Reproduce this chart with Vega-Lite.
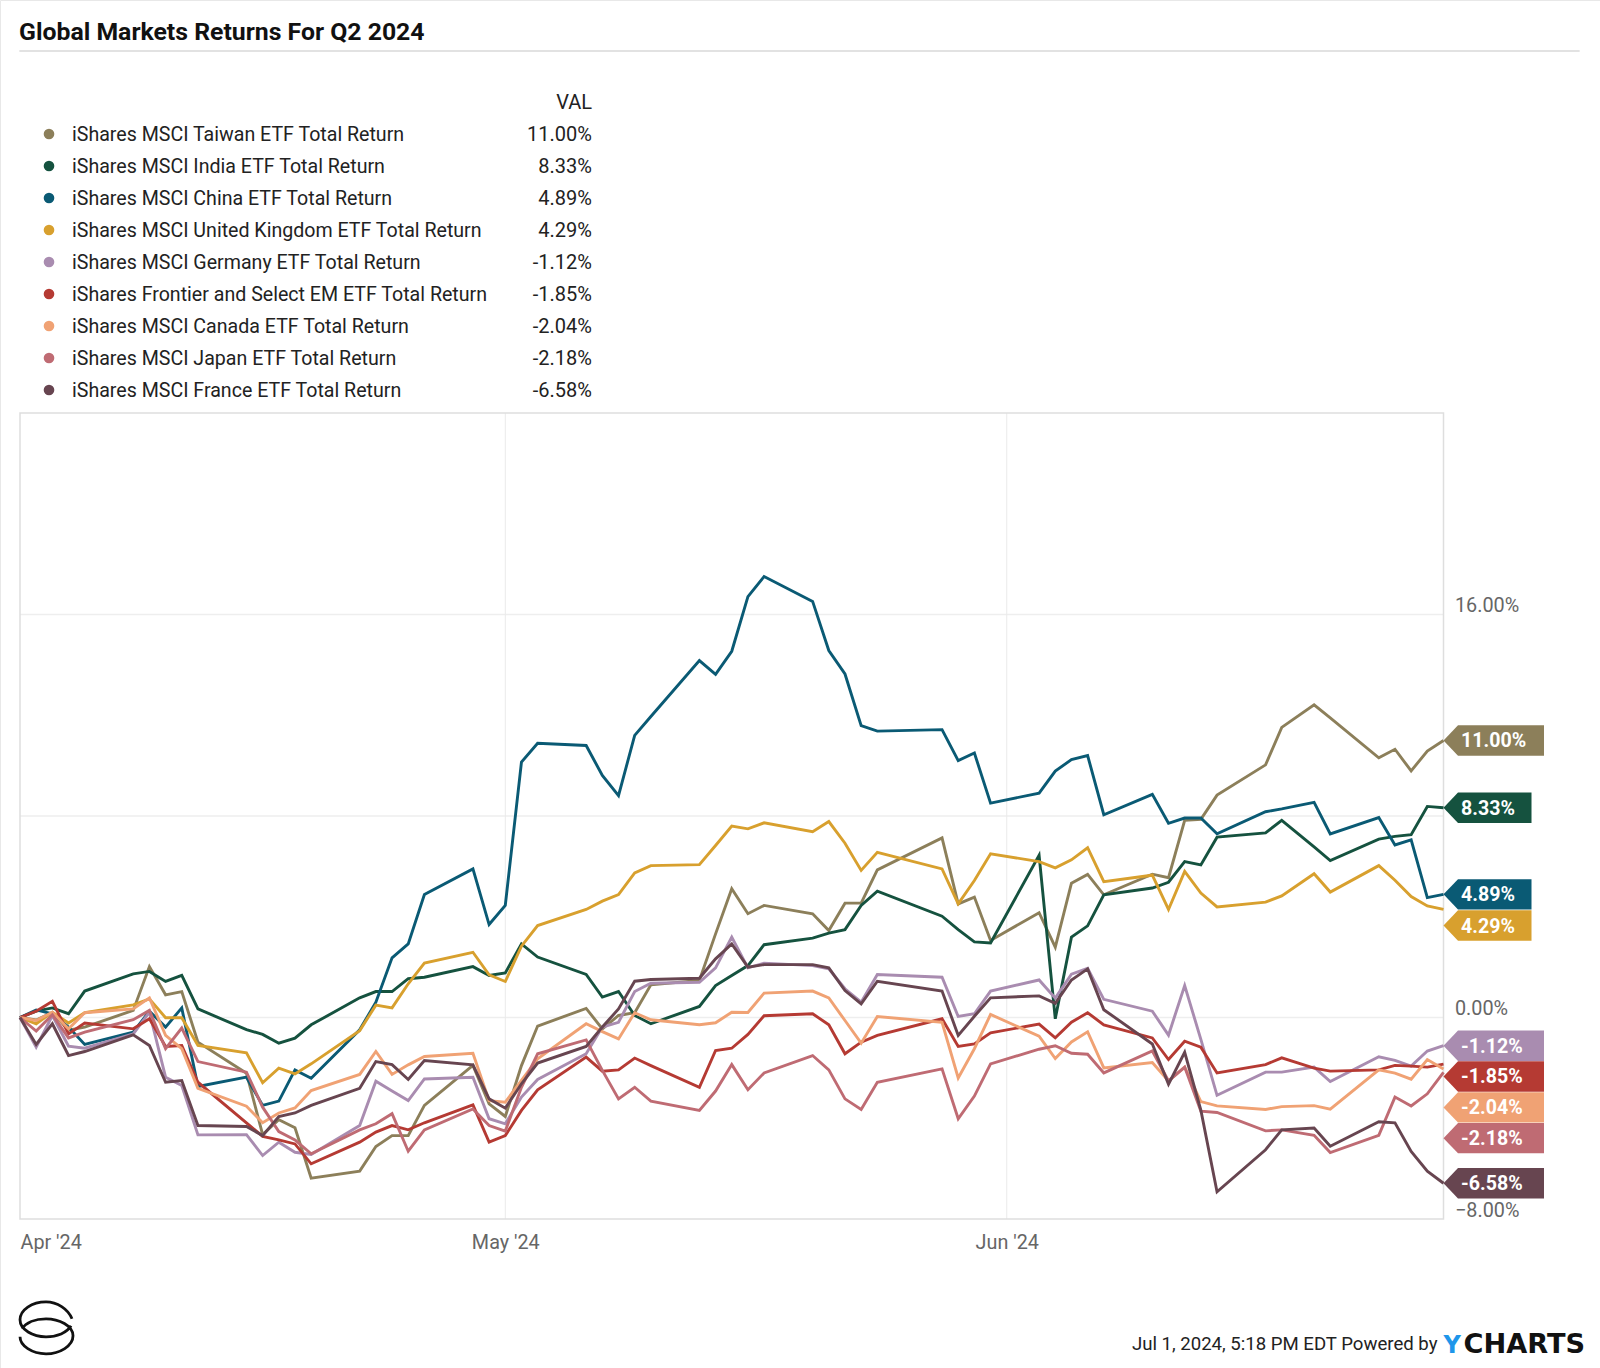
{"$schema":"https://vega.github.io/schema/vega-lite/v6.json","width":1600,"height":1368,"padding":0,"autosize":{"type":"none"},"background":"white",
"config":{"view":{"stroke":"#e8e8e8"},"text":{"font":"Roboto"}},
"title":{"text":"Global Markets Returns For Q2 2024","anchor":"start","frame":"group","offset":-65,"dx":19,"baseline":"alphabetic","font":"Roboto","fontSize":24.8,"fontWeight":"bold","color":"#111111"},
"datasets":{
"latest":[
{"etf":"Header","name":"VAL","val":"VAL","value":null},
{"etf":"Taiwan","name":"iShares MSCI Taiwan ETF Total Return","val":"11.00%","value":11},
{"etf":"India","name":"iShares MSCI India ETF Total Return","val":"8.33%","value":8.33},
{"etf":"China","name":"iShares MSCI China ETF Total Return","val":"4.89%","value":4.89},
{"etf":"UK","name":"iShares MSCI United Kingdom ETF Total Return","val":"4.29%","value":4.29},
{"etf":"Germany","name":"iShares MSCI Germany ETF Total Return","val":"-1.12%","value":-1.12},
{"etf":"Frontier","name":"iShares Frontier and Select EM ETF Total Return","val":"-1.85%","value":-1.85},
{"etf":"Canada","name":"iShares MSCI Canada ETF Total Return","val":"-2.04%","value":-2.04},
{"etf":"Japan","name":"iShares MSCI Japan ETF Total Return","val":"-2.18%","value":-2.18},
{"etf":"France","name":"iShares MSCI France ETF Total Return","val":"-6.58%","value":-6.58}
],
"returns":[
{"date":"2024/04/01","etf":"Taiwan","ret":0},{"date":"2024/04/02","etf":"Taiwan","ret":-0.1},{"date":"2024/04/03","etf":"Taiwan","ret":0.2},{"date":"2024/04/04","etf":"Taiwan","ret":-0.5},{"date":"2024/04/05","etf":"Taiwan","ret":-0.38},{"date":"2024/04/08","etf":"Taiwan","ret":0.28},{"date":"2024/04/09","etf":"Taiwan","ret":2.02},{"date":"2024/04/10","etf":"Taiwan","ret":0.9},{"date":"2024/04/11","etf":"Taiwan","ret":1.03},{"date":"2024/04/12","etf":"Taiwan","ret":-0.98},{"date":"2024/04/15","etf":"Taiwan","ret":-2.21},{"date":"2024/04/16","etf":"Taiwan","ret":-4.65},{"date":"2024/04/17","etf":"Taiwan","ret":-4.06},{"date":"2024/04/18","etf":"Taiwan","ret":-4.38},{"date":"2024/04/19","etf":"Taiwan","ret":-6.38},{"date":"2024/04/22","etf":"Taiwan","ret":-6.1},{"date":"2024/04/23","etf":"Taiwan","ret":-5.12},{"date":"2024/04/24","etf":"Taiwan","ret":-4.69},{"date":"2024/04/25","etf":"Taiwan","ret":-4.69},{"date":"2024/04/26","etf":"Taiwan","ret":-3.49},{"date":"2024/04/29","etf":"Taiwan","ret":-1.9},{"date":"2024/04/30","etf":"Taiwan","ret":-3.43},
{"date":"2024/05/01","etf":"Taiwan","ret":-3.93},{"date":"2024/05/02","etf":"Taiwan","ret":-1.91},{"date":"2024/05/03","etf":"Taiwan","ret":-0.34},{"date":"2024/05/06","etf":"Taiwan","ret":0.36},{"date":"2024/05/07","etf":"Taiwan","ret":-0.45},{"date":"2024/05/08","etf":"Taiwan","ret":0.08},{"date":"2024/05/09","etf":"Taiwan","ret":0.19},{"date":"2024/05/10","etf":"Taiwan","ret":1.3},{"date":"2024/05/13","etf":"Taiwan","ret":1.47},{"date":"2024/05/14","etf":"Taiwan","ret":3.32},{"date":"2024/05/15","etf":"Taiwan","ret":5.11},{"date":"2024/05/16","etf":"Taiwan","ret":4.12},{"date":"2024/05/17","etf":"Taiwan","ret":4.45},{"date":"2024/05/20","etf":"Taiwan","ret":4.12},{"date":"2024/05/21","etf":"Taiwan","ret":3.45},{"date":"2024/05/22","etf":"Taiwan","ret":4.54},{"date":"2024/05/23","etf":"Taiwan","ret":4.54},{"date":"2024/05/24","etf":"Taiwan","ret":5.86},{"date":"2024/05/28","etf":"Taiwan","ret":7.13},{"date":"2024/05/29","etf":"Taiwan","ret":4.51},{"date":"2024/05/30","etf":"Taiwan","ret":4.78},{"date":"2024/05/31","etf":"Taiwan","ret":3.06},
{"date":"2024/06/03","etf":"Taiwan","ret":4.16},{"date":"2024/06/04","etf":"Taiwan","ret":2.79},{"date":"2024/06/05","etf":"Taiwan","ret":5.33},{"date":"2024/06/06","etf":"Taiwan","ret":5.68},{"date":"2024/06/07","etf":"Taiwan","ret":4.87},{"date":"2024/06/10","etf":"Taiwan","ret":5.69},{"date":"2024/06/11","etf":"Taiwan","ret":5.55},{"date":"2024/06/12","etf":"Taiwan","ret":7.83},{"date":"2024/06/13","etf":"Taiwan","ret":7.87},{"date":"2024/06/14","etf":"Taiwan","ret":8.83},{"date":"2024/06/17","etf":"Taiwan","ret":10.03},{"date":"2024/06/18","etf":"Taiwan","ret":11.52},{"date":"2024/06/20","etf":"Taiwan","ret":12.41},{"date":"2024/06/21","etf":"Taiwan","ret":11.9},{"date":"2024/06/24","etf":"Taiwan","ret":10.31},{"date":"2024/06/25","etf":"Taiwan","ret":10.65},{"date":"2024/06/26","etf":"Taiwan","ret":9.79},{"date":"2024/06/27","etf":"Taiwan","ret":10.58},{"date":"2024/06/28","etf":"Taiwan","ret":11},
{"date":"2024/04/01","etf":"India","ret":0},{"date":"2024/04/02","etf":"India","ret":0.25},{"date":"2024/04/03","etf":"India","ret":0.38},{"date":"2024/04/04","etf":"India","ret":0.15},{"date":"2024/04/05","etf":"India","ret":1.05},{"date":"2024/04/08","etf":"India","ret":1.73},{"date":"2024/04/09","etf":"India","ret":1.83},{"date":"2024/04/10","etf":"India","ret":1.43},{"date":"2024/04/11","etf":"India","ret":1.67},{"date":"2024/04/12","etf":"India","ret":0.34},{"date":"2024/04/15","etf":"India","ret":-0.48},{"date":"2024/04/16","etf":"India","ret":-0.67},{"date":"2024/04/17","etf":"India","ret":-1.02},{"date":"2024/04/18","etf":"India","ret":-0.82},{"date":"2024/04/19","etf":"India","ret":-0.29},{"date":"2024/04/22","etf":"India","ret":0.78},{"date":"2024/04/23","etf":"India","ret":1.03},{"date":"2024/04/24","etf":"India","ret":1.03},{"date":"2024/04/25","etf":"India","ret":1.54},{"date":"2024/04/26","etf":"India","ret":1.6},{"date":"2024/04/29","etf":"India","ret":2.02},{"date":"2024/04/30","etf":"India","ret":1.67},
{"date":"2024/05/01","etf":"India","ret":1.77},{"date":"2024/05/02","etf":"India","ret":2.92},{"date":"2024/05/03","etf":"India","ret":2.4},{"date":"2024/05/06","etf":"India","ret":1.71},{"date":"2024/05/07","etf":"India","ret":0.81},{"date":"2024/05/08","etf":"India","ret":1.03},{"date":"2024/05/09","etf":"India","ret":0.08},{"date":"2024/05/10","etf":"India","ret":-0.25},{"date":"2024/05/13","etf":"India","ret":0.44},{"date":"2024/05/14","etf":"India","ret":1.27},{"date":"2024/05/15","etf":"India","ret":1.67},{"date":"2024/05/16","etf":"India","ret":2.06},{"date":"2024/05/17","etf":"India","ret":2.89},{"date":"2024/05/20","etf":"India","ret":3.15},{"date":"2024/05/21","etf":"India","ret":3.35},{"date":"2024/05/22","etf":"India","ret":3.49},{"date":"2024/05/23","etf":"India","ret":4.45},{"date":"2024/05/24","etf":"India","ret":5.02},{"date":"2024/05/28","etf":"India","ret":4.02},{"date":"2024/05/29","etf":"India","ret":3.49},{"date":"2024/05/30","etf":"India","ret":3},{"date":"2024/05/31","etf":"India","ret":2.96},
{"date":"2024/06/03","etf":"India","ret":6.44},{"date":"2024/06/04","etf":"India","ret":-0.05},{"date":"2024/06/05","etf":"India","ret":3.19},{"date":"2024/06/06","etf":"India","ret":3.64},{"date":"2024/06/07","etf":"India","ret":4.87},{"date":"2024/06/10","etf":"India","ret":5.14},{"date":"2024/06/11","etf":"India","ret":5.37},{"date":"2024/06/12","etf":"India","ret":6.19},{"date":"2024/06/13","etf":"India","ret":6.06},{"date":"2024/06/14","etf":"India","ret":7.16},{"date":"2024/06/17","etf":"India","ret":7.33},{"date":"2024/06/18","etf":"India","ret":7.83},{"date":"2024/06/20","etf":"India","ret":6.77},{"date":"2024/06/21","etf":"India","ret":6.23},{"date":"2024/06/24","etf":"India","ret":7.08},{"date":"2024/06/25","etf":"India","ret":7.19},{"date":"2024/06/26","etf":"India","ret":7.26},{"date":"2024/06/27","etf":"India","ret":8.38},{"date":"2024/06/28","etf":"India","ret":8.33},
{"date":"2024/04/01","etf":"China","ret":0},{"date":"2024/04/02","etf":"China","ret":0.3},{"date":"2024/04/03","etf":"China","ret":0.15},{"date":"2024/04/04","etf":"China","ret":-0.38},{"date":"2024/04/05","etf":"China","ret":-1.07},{"date":"2024/04/08","etf":"China","ret":-0.58},{"date":"2024/04/09","etf":"China","ret":0.25},{"date":"2024/04/10","etf":"China","ret":-0.38},{"date":"2024/04/11","etf":"China","ret":0.38},{"date":"2024/04/12","etf":"China","ret":-2.74},{"date":"2024/04/15","etf":"China","ret":-2.37},{"date":"2024/04/16","etf":"China","ret":-3.49},{"date":"2024/04/17","etf":"China","ret":-3.32},{"date":"2024/04/18","etf":"China","ret":-2.08},{"date":"2024/04/19","etf":"China","ret":-2.41},{"date":"2024/04/22","etf":"China","ret":-0.49},{"date":"2024/04/23","etf":"China","ret":0.61},{"date":"2024/04/24","etf":"China","ret":2.37},{"date":"2024/04/25","etf":"China","ret":2.92},{"date":"2024/04/26","etf":"China","ret":4.88},{"date":"2024/04/29","etf":"China","ret":5.9},{"date":"2024/04/30","etf":"China","ret":3.69},
{"date":"2024/05/01","etf":"China","ret":4.45},{"date":"2024/05/02","etf":"China","ret":10.14},{"date":"2024/05/03","etf":"China","ret":10.89},{"date":"2024/05/06","etf":"China","ret":10.8},{"date":"2024/05/07","etf":"China","ret":9.61},{"date":"2024/05/08","etf":"China","ret":8.81},{"date":"2024/05/09","etf":"China","ret":11.2},{"date":"2024/05/10","etf":"China","ret":11.95},{"date":"2024/05/13","etf":"China","ret":14.17},{"date":"2024/05/14","etf":"China","ret":13.62},{"date":"2024/05/15","etf":"China","ret":14.54},{"date":"2024/05/16","etf":"China","ret":16.71},{"date":"2024/05/17","etf":"China","ret":17.51},{"date":"2024/05/20","etf":"China","ret":16.52},{"date":"2024/05/21","etf":"China","ret":14.57},{"date":"2024/05/22","etf":"China","ret":13.64},{"date":"2024/05/23","etf":"China","ret":11.59},{"date":"2024/05/24","etf":"China","ret":11.37},{"date":"2024/05/28","etf":"China","ret":11.43},{"date":"2024/05/29","etf":"China","ret":10.2},{"date":"2024/05/30","etf":"China","ret":10.5},{"date":"2024/05/31","etf":"China","ret":8.51},
{"date":"2024/06/03","etf":"China","ret":8.91},{"date":"2024/06/04","etf":"China","ret":9.78},{"date":"2024/06/05","etf":"China","ret":10.24},{"date":"2024/06/06","etf":"China","ret":10.4},{"date":"2024/06/07","etf":"China","ret":8.05},{"date":"2024/06/10","etf":"China","ret":8.86},{"date":"2024/06/11","etf":"China","ret":7.71},{"date":"2024/06/12","etf":"China","ret":7.92},{"date":"2024/06/13","etf":"China","ret":7.92},{"date":"2024/06/14","etf":"China","ret":7.29},{"date":"2024/06/17","etf":"China","ret":8.17},{"date":"2024/06/18","etf":"China","ret":8.28},{"date":"2024/06/20","etf":"China","ret":8.54},{"date":"2024/06/21","etf":"China","ret":7.29},{"date":"2024/06/24","etf":"China","ret":7.94},{"date":"2024/06/25","etf":"China","ret":6.85},{"date":"2024/06/26","etf":"China","ret":7.05},{"date":"2024/06/27","etf":"China","ret":4.76},{"date":"2024/06/28","etf":"China","ret":4.89},
{"date":"2024/04/01","etf":"UK","ret":0},{"date":"2024/04/02","etf":"UK","ret":-0.25},{"date":"2024/04/03","etf":"UK","ret":0.21},{"date":"2024/04/04","etf":"UK","ret":-0.22},{"date":"2024/04/05","etf":"UK","ret":0.19},{"date":"2024/04/08","etf":"UK","ret":0.5},{"date":"2024/04/09","etf":"UK","ret":0.74},{"date":"2024/04/10","etf":"UK","ret":-0.01},{"date":"2024/04/11","etf":"UK","ret":-0.01},{"date":"2024/04/12","etf":"UK","ret":-1.11},{"date":"2024/04/15","etf":"UK","ret":-1.4},{"date":"2024/04/16","etf":"UK","ret":-2.59},{"date":"2024/04/17","etf":"UK","ret":-2.01},{"date":"2024/04/18","etf":"UK","ret":-2.24},{"date":"2024/04/19","etf":"UK","ret":-1.84},{"date":"2024/04/22","etf":"UK","ret":-0.52},{"date":"2024/04/23","etf":"UK","ret":0.49},{"date":"2024/04/24","etf":"UK","ret":0.38},{"date":"2024/04/25","etf":"UK","ret":1.34},{"date":"2024/04/26","etf":"UK","ret":2.16},{"date":"2024/04/29","etf":"UK","ret":2.59},{"date":"2024/04/30","etf":"UK","ret":1.69},
{"date":"2024/05/01","etf":"UK","ret":1.43},{"date":"2024/05/02","etf":"UK","ret":2.83},{"date":"2024/05/03","etf":"UK","ret":3.65},{"date":"2024/05/06","etf":"UK","ret":4.29},{"date":"2024/05/07","etf":"UK","ret":4.62},{"date":"2024/05/08","etf":"UK","ret":4.88},{"date":"2024/05/09","etf":"UK","ret":5.74},{"date":"2024/05/10","etf":"UK","ret":6.03},{"date":"2024/05/13","etf":"UK","ret":6.07},{"date":"2024/05/14","etf":"UK","ret":6.83},{"date":"2024/05/15","etf":"UK","ret":7.6},{"date":"2024/05/16","etf":"UK","ret":7.49},{"date":"2024/05/17","etf":"UK","ret":7.73},{"date":"2024/05/20","etf":"UK","ret":7.38},{"date":"2024/05/21","etf":"UK","ret":7.78},{"date":"2024/05/22","etf":"UK","ret":6.92},{"date":"2024/05/23","etf":"UK","ret":5.84},{"date":"2024/05/24","etf":"UK","ret":6.56},{"date":"2024/05/28","etf":"UK","ret":5.9},{"date":"2024/05/29","etf":"UK","ret":4.51},{"date":"2024/05/30","etf":"UK","ret":5.44},{"date":"2024/05/31","etf":"UK","ret":6.5},
{"date":"2024/06/03","etf":"UK","ret":6.19},{"date":"2024/06/04","etf":"UK","ret":5.94},{"date":"2024/06/05","etf":"UK","ret":6.26},{"date":"2024/06/06","etf":"UK","ret":6.74},{"date":"2024/06/07","etf":"UK","ret":5.39},{"date":"2024/06/10","etf":"UK","ret":5.65},{"date":"2024/06/11","etf":"UK","ret":4.29},{"date":"2024/06/12","etf":"UK","ret":5.8},{"date":"2024/06/13","etf":"UK","ret":4.94},{"date":"2024/06/14","etf":"UK","ret":4.39},{"date":"2024/06/17","etf":"UK","ret":4.58},{"date":"2024/06/18","etf":"UK","ret":4.83},{"date":"2024/06/20","etf":"UK","ret":5.71},{"date":"2024/06/21","etf":"UK","ret":4.98},{"date":"2024/06/24","etf":"UK","ret":6.03},{"date":"2024/06/25","etf":"UK","ret":5.45},{"date":"2024/06/26","etf":"UK","ret":4.8},{"date":"2024/06/27","etf":"UK","ret":4.43},{"date":"2024/06/28","etf":"UK","ret":4.29},
{"date":"2024/04/01","etf":"Germany","ret":0},{"date":"2024/04/02","etf":"Germany","ret":-1.18},{"date":"2024/04/03","etf":"Germany","ret":0.08},{"date":"2024/04/04","etf":"Germany","ret":-1.14},{"date":"2024/04/05","etf":"Germany","ret":-1.22},{"date":"2024/04/08","etf":"Germany","ret":-0.65},{"date":"2024/04/09","etf":"Germany","ret":0.21},{"date":"2024/04/10","etf":"Germany","ret":-2.37},{"date":"2024/04/11","etf":"Germany","ret":-2.7},{"date":"2024/04/12","etf":"Germany","ret":-4.66},{"date":"2024/04/15","etf":"Germany","ret":-4.65},{"date":"2024/04/16","etf":"Germany","ret":-5.48},{"date":"2024/04/17","etf":"Germany","ret":-4.95},{"date":"2024/04/18","etf":"Germany","ret":-5.35},{"date":"2024/04/19","etf":"Germany","ret":-5.44},{"date":"2024/04/22","etf":"Germany","ret":-4.29},{"date":"2024/04/23","etf":"Germany","ret":-2.53},{"date":"2024/04/24","etf":"Germany","ret":-2.92},{"date":"2024/04/25","etf":"Germany","ret":-3.3},{"date":"2024/04/26","etf":"Germany","ret":-2.44},{"date":"2024/04/29","etf":"Germany","ret":-2.37},{"date":"2024/04/30","etf":"Germany","ret":-4.02},
{"date":"2024/05/01","etf":"Germany","ret":-4.22},{"date":"2024/05/02","etf":"Germany","ret":-3.16},{"date":"2024/05/03","etf":"Germany","ret":-2.46},{"date":"2024/05/06","etf":"Germany","ret":-1.44},{"date":"2024/05/07","etf":"Germany","ret":-0.38},{"date":"2024/05/08","etf":"Germany","ret":-0.19},{"date":"2024/05/09","etf":"Germany","ret":1.03},{"date":"2024/05/10","etf":"Germany","ret":1.36},{"date":"2024/05/13","etf":"Germany","ret":1.4},{"date":"2024/05/14","etf":"Germany","ret":1.97},{"date":"2024/05/15","etf":"Germany","ret":3.19},{"date":"2024/05/16","etf":"Germany","ret":1.97},{"date":"2024/05/17","etf":"Germany","ret":2.16},{"date":"2024/05/20","etf":"Germany","ret":2.06},{"date":"2024/05/21","etf":"Germany","ret":1.93},{"date":"2024/05/22","etf":"Germany","ret":1.14},{"date":"2024/05/23","etf":"Germany","ret":0.61},{"date":"2024/05/24","etf":"Germany","ret":1.71},{"date":"2024/05/28","etf":"Germany","ret":1.6},{"date":"2024/05/29","etf":"Germany","ret":0.04},{"date":"2024/05/30","etf":"Germany","ret":0.15},{"date":"2024/05/31","etf":"Germany","ret":1.05},
{"date":"2024/06/03","etf":"Germany","ret":1.49},{"date":"2024/06/04","etf":"Germany","ret":0.77},{"date":"2024/06/05","etf":"Germany","ret":1.72},{"date":"2024/06/06","etf":"Germany","ret":1.95},{"date":"2024/06/07","etf":"Germany","ret":0.72},{"date":"2024/06/10","etf":"Germany","ret":0.25},{"date":"2024/06/11","etf":"Germany","ret":-0.7},{"date":"2024/06/12","etf":"Germany","ret":1.27},{"date":"2024/06/13","etf":"Germany","ret":-0.87},{"date":"2024/06/14","etf":"Germany","ret":-3.09},{"date":"2024/06/17","etf":"Germany","ret":-2.17},{"date":"2024/06/18","etf":"Germany","ret":-2.17},{"date":"2024/06/20","etf":"Germany","ret":-1.97},{"date":"2024/06/21","etf":"Germany","ret":-2.54},{"date":"2024/06/24","etf":"Germany","ret":-1.56},{"date":"2024/06/25","etf":"Germany","ret":-1.7},{"date":"2024/06/26","etf":"Germany","ret":-1.93},{"date":"2024/06/27","etf":"Germany","ret":-1.33},{"date":"2024/06/28","etf":"Germany","ret":-1.12},
{"date":"2024/04/01","etf":"Frontier","ret":0},{"date":"2024/04/02","etf":"Frontier","ret":0.25},{"date":"2024/04/03","etf":"Frontier","ret":0.64},{"date":"2024/04/04","etf":"Frontier","ret":-0.65},{"date":"2024/04/05","etf":"Frontier","ret":-0.22},{"date":"2024/04/08","etf":"Frontier","ret":-0.45},{"date":"2024/04/09","etf":"Frontier","ret":-0.05},{"date":"2024/04/10","etf":"Frontier","ret":-1.15},{"date":"2024/04/11","etf":"Frontier","ret":-1.11},{"date":"2024/04/12","etf":"Frontier","ret":-2.57},{"date":"2024/04/15","etf":"Frontier","ret":-4.18},{"date":"2024/04/16","etf":"Frontier","ret":-4.72},{"date":"2024/04/17","etf":"Frontier","ret":-4.86},{"date":"2024/04/18","etf":"Frontier","ret":-5.02},{"date":"2024/04/19","etf":"Frontier","ret":-5.81},{"date":"2024/04/22","etf":"Frontier","ret":-4.95},{"date":"2024/04/23","etf":"Frontier","ret":-4.55},{"date":"2024/04/24","etf":"Frontier","ret":-4.29},{"date":"2024/04/25","etf":"Frontier","ret":-4.46},{"date":"2024/04/26","etf":"Frontier","ret":-4.18},{"date":"2024/04/29","etf":"Frontier","ret":-3.47},{"date":"2024/04/30","etf":"Frontier","ret":-4.95},
{"date":"2024/05/01","etf":"Frontier","ret":-4.69},{"date":"2024/05/02","etf":"Frontier","ret":-3.69},{"date":"2024/05/03","etf":"Frontier","ret":-2.87},{"date":"2024/05/06","etf":"Frontier","ret":-1.57},{"date":"2024/05/07","etf":"Frontier","ret":-2.13},{"date":"2024/05/08","etf":"Frontier","ret":-2.08},{"date":"2024/05/09","etf":"Frontier","ret":-1.61},{"date":"2024/05/10","etf":"Frontier","ret":-1.91},{"date":"2024/05/13","etf":"Frontier","ret":-2.77},{"date":"2024/05/14","etf":"Frontier","ret":-1.31},{"date":"2024/05/15","etf":"Frontier","ret":-1.22},{"date":"2024/05/16","etf":"Frontier","ret":-0.67},{"date":"2024/05/17","etf":"Frontier","ret":0.07},{"date":"2024/05/20","etf":"Frontier","ret":0.15},{"date":"2024/05/21","etf":"Frontier","ret":-0.29},{"date":"2024/05/22","etf":"Frontier","ret":-1.44},{"date":"2024/05/23","etf":"Frontier","ret":-0.98},{"date":"2024/05/24","etf":"Frontier","ret":-0.71},{"date":"2024/05/28","etf":"Frontier","ret":-0.05},{"date":"2024/05/29","etf":"Frontier","ret":-1.15},{"date":"2024/05/30","etf":"Frontier","ret":-1.05},{"date":"2024/05/31","etf":"Frontier","ret":-0.61},
{"date":"2024/06/03","etf":"Frontier","ret":-0.26},{"date":"2024/06/04","etf":"Frontier","ret":-0.81},{"date":"2024/06/05","etf":"Frontier","ret":-0.19},{"date":"2024/06/06","etf":"Frontier","ret":0.19},{"date":"2024/06/07","etf":"Frontier","ret":-0.29},{"date":"2024/06/10","etf":"Frontier","ret":-0.81},{"date":"2024/06/11","etf":"Frontier","ret":-1.67},{"date":"2024/06/12","etf":"Frontier","ret":-0.94},{"date":"2024/06/13","etf":"Frontier","ret":-1.18},{"date":"2024/06/14","etf":"Frontier","ret":-2.2},{"date":"2024/06/17","etf":"Frontier","ret":-1.87},{"date":"2024/06/18","etf":"Frontier","ret":-1.6},{"date":"2024/06/20","etf":"Frontier","ret":-2.01},{"date":"2024/06/21","etf":"Frontier","ret":-2.13},{"date":"2024/06/24","etf":"Frontier","ret":-2.08},{"date":"2024/06/25","etf":"Frontier","ret":-1.9},{"date":"2024/06/26","etf":"Frontier","ret":-1.93},{"date":"2024/06/27","etf":"Frontier","ret":-1.97},{"date":"2024/06/28","etf":"Frontier","ret":-1.85},
{"date":"2024/04/01","etf":"Canada","ret":0},{"date":"2024/04/02","etf":"Canada","ret":-0.12},{"date":"2024/04/03","etf":"Canada","ret":0.21},{"date":"2024/04/04","etf":"Canada","ret":-0.45},{"date":"2024/04/05","etf":"Canada","ret":0.19},{"date":"2024/04/08","etf":"Canada","ret":0.34},{"date":"2024/04/09","etf":"Canada","ret":0.78},{"date":"2024/04/10","etf":"Canada","ret":-0.71},{"date":"2024/04/11","etf":"Canada","ret":-1.24},{"date":"2024/04/12","etf":"Canada","ret":-2.81},{"date":"2024/04/15","etf":"Canada","ret":-3.52},{"date":"2024/04/16","etf":"Canada","ret":-4.18},{"date":"2024/04/17","etf":"Canada","ret":-3.79},{"date":"2024/04/18","etf":"Canada","ret":-3.59},{"date":"2024/04/19","etf":"Canada","ret":-2.9},{"date":"2024/04/22","etf":"Canada","ret":-2.26},{"date":"2024/04/23","etf":"Canada","ret":-1.35},{"date":"2024/04/24","etf":"Canada","ret":-2.26},{"date":"2024/04/25","etf":"Canada","ret":-1.88},{"date":"2024/04/26","etf":"Canada","ret":-1.55},{"date":"2024/04/29","etf":"Canada","ret":-1.42},{"date":"2024/04/30","etf":"Canada","ret":-3.3},
{"date":"2024/05/01","etf":"Canada","ret":-3.36},{"date":"2024/05/02","etf":"Canada","ret":-2.5},{"date":"2024/05/03","etf":"Canada","ret":-1.64},{"date":"2024/05/06","etf":"Canada","ret":-0.25},{"date":"2024/05/07","etf":"Canada","ret":-0.56},{"date":"2024/05/08","etf":"Canada","ret":-0.85},{"date":"2024/05/09","etf":"Canada","ret":0.19},{"date":"2024/05/10","etf":"Canada","ret":-0.09},{"date":"2024/05/13","etf":"Canada","ret":-0.29},{"date":"2024/05/14","etf":"Canada","ret":-0.21},{"date":"2024/05/15","etf":"Canada","ret":0.21},{"date":"2024/05/16","etf":"Canada","ret":0.2},{"date":"2024/05/17","etf":"Canada","ret":0.97},{"date":"2024/05/20","etf":"Canada","ret":1.05},{"date":"2024/05/21","etf":"Canada","ret":0.78},{"date":"2024/05/22","etf":"Canada","ret":-0.12},{"date":"2024/05/23","etf":"Canada","ret":-1.02},{"date":"2024/05/24","etf":"Canada","ret":0.04},{"date":"2024/05/28","etf":"Canada","ret":-0.19},{"date":"2024/05/29","etf":"Canada","ret":-2.4},{"date":"2024/05/30","etf":"Canada","ret":-1.24},{"date":"2024/05/31","etf":"Canada","ret":0.12},
{"date":"2024/06/03","etf":"Canada","ret":-0.74},{"date":"2024/06/04","etf":"Canada","ret":-1.63},{"date":"2024/06/05","etf":"Canada","ret":-0.97},{"date":"2024/06/06","etf":"Canada","ret":-0.57},{"date":"2024/06/07","etf":"Canada","ret":-2},{"date":"2024/06/10","etf":"Canada","ret":-1.79},{"date":"2024/06/11","etf":"Canada","ret":-2.52},{"date":"2024/06/12","etf":"Canada","ret":-1.97},{"date":"2024/06/13","etf":"Canada","ret":-3.34},{"date":"2024/06/14","etf":"Canada","ret":-3.51},{"date":"2024/06/17","etf":"Canada","ret":-3.65},{"date":"2024/06/18","etf":"Canada","ret":-3.54},{"date":"2024/06/20","etf":"Canada","ret":-3.5},{"date":"2024/06/21","etf":"Canada","ret":-3.64},{"date":"2024/06/24","etf":"Canada","ret":-2.08},{"date":"2024/06/25","etf":"Canada","ret":-2.21},{"date":"2024/06/26","etf":"Canada","ret":-2.45},{"date":"2024/06/27","etf":"Canada","ret":-1.67},{"date":"2024/06/28","etf":"Canada","ret":-2.04},
{"date":"2024/04/01","etf":"Japan","ret":0},{"date":"2024/04/02","etf":"Japan","ret":-0.54},{"date":"2024/04/03","etf":"Japan","ret":0.11},{"date":"2024/04/04","etf":"Japan","ret":-0.81},{"date":"2024/04/05","etf":"Japan","ret":-0.58},{"date":"2024/04/08","etf":"Japan","ret":-0.09},{"date":"2024/04/09","etf":"Japan","ret":0.28},{"date":"2024/04/10","etf":"Japan","ret":-1.24},{"date":"2024/04/11","etf":"Japan","ret":-0.42},{"date":"2024/04/12","etf":"Japan","ret":-1.75},{"date":"2024/04/15","etf":"Japan","ret":-2.17},{"date":"2024/04/16","etf":"Japan","ret":-3.56},{"date":"2024/04/17","etf":"Japan","ret":-4.53},{"date":"2024/04/18","etf":"Japan","ret":-4.86},{"date":"2024/04/19","etf":"Japan","ret":-5.41},{"date":"2024/04/22","etf":"Japan","ret":-4.46},{"date":"2024/04/23","etf":"Japan","ret":-4.22},{"date":"2024/04/24","etf":"Japan","ret":-3.82},{"date":"2024/04/25","etf":"Japan","ret":-5.31},{"date":"2024/04/26","etf":"Japan","ret":-4.46},{"date":"2024/04/29","etf":"Japan","ret":-3.63},{"date":"2024/04/30","etf":"Japan","ret":-4.29},
{"date":"2024/05/01","etf":"Japan","ret":-4.51},{"date":"2024/05/02","etf":"Japan","ret":-2.77},{"date":"2024/05/03","etf":"Japan","ret":-1.44},{"date":"2024/05/06","etf":"Japan","ret":-0.89},{"date":"2024/05/07","etf":"Japan","ret":-2.1},{"date":"2024/05/08","etf":"Japan","ret":-3.23},{"date":"2024/05/09","etf":"Japan","ret":-2.77},{"date":"2024/05/10","etf":"Japan","ret":-3.32},{"date":"2024/05/13","etf":"Japan","ret":-3.69},{"date":"2024/05/14","etf":"Japan","ret":-2.92},{"date":"2024/05/15","etf":"Japan","ret":-1.87},{"date":"2024/05/16","etf":"Japan","ret":-2.87},{"date":"2024/05/17","etf":"Japan","ret":-2.2},{"date":"2024/05/20","etf":"Japan","ret":-1.51},{"date":"2024/05/21","etf":"Japan","ret":-2.08},{"date":"2024/05/22","etf":"Japan","ret":-3.23},{"date":"2024/05/23","etf":"Japan","ret":-3.65},{"date":"2024/05/24","etf":"Japan","ret":-2.57},{"date":"2024/05/28","etf":"Japan","ret":-2.04},{"date":"2024/05/29","etf":"Japan","ret":-4.02},{"date":"2024/05/30","etf":"Japan","ret":-3.12},{"date":"2024/05/31","etf":"Japan","ret":-1.84},
{"date":"2024/06/03","etf":"Japan","ret":-1.26},{"date":"2024/06/04","etf":"Japan","ret":-1.12},{"date":"2024/06/05","etf":"Japan","ret":-1.42},{"date":"2024/06/06","etf":"Japan","ret":-1.46},{"date":"2024/06/07","etf":"Japan","ret":-2.2},{"date":"2024/06/10","etf":"Japan","ret":-1.33},{"date":"2024/06/11","etf":"Japan","ret":-2.52},{"date":"2024/06/12","etf":"Japan","ret":-1.97},{"date":"2024/06/13","etf":"Japan","ret":-3.72},{"date":"2024/06/14","etf":"Japan","ret":-3.77},{"date":"2024/06/17","etf":"Japan","ret":-4.5},{"date":"2024/06/18","etf":"Japan","ret":-4.46},{"date":"2024/06/20","etf":"Japan","ret":-4.68},{"date":"2024/06/21","etf":"Japan","ret":-5.36},{"date":"2024/06/24","etf":"Japan","ret":-4.68},{"date":"2024/06/25","etf":"Japan","ret":-3.16},{"date":"2024/06/26","etf":"Japan","ret":-3.51},{"date":"2024/06/27","etf":"Japan","ret":-3.03},{"date":"2024/06/28","etf":"Japan","ret":-2.18},
{"date":"2024/04/01","etf":"France","ret":0},{"date":"2024/04/02","etf":"France","ret":-1.07},{"date":"2024/04/03","etf":"France","ret":-0.25},{"date":"2024/04/04","etf":"France","ret":-1.51},{"date":"2024/04/05","etf":"France","ret":-1.35},{"date":"2024/04/08","etf":"France","ret":-0.69},{"date":"2024/04/09","etf":"France","ret":-1.11},{"date":"2024/04/10","etf":"France","ret":-2.57},{"date":"2024/04/11","etf":"France","ret":-2.5},{"date":"2024/04/12","etf":"France","ret":-4.29},{"date":"2024/04/15","etf":"France","ret":-4.33},{"date":"2024/04/16","etf":"France","ret":-4.69},{"date":"2024/04/17","etf":"France","ret":-3.93},{"date":"2024/04/18","etf":"France","ret":-3.79},{"date":"2024/04/19","etf":"France","ret":-3.49},{"date":"2024/04/22","etf":"France","ret":-2.81},{"date":"2024/04/23","etf":"France","ret":-1.75},{"date":"2024/04/24","etf":"France","ret":-1.87},{"date":"2024/04/25","etf":"France","ret":-2.46},{"date":"2024/04/26","etf":"France","ret":-1.71},{"date":"2024/04/29","etf":"France","ret":-1.88},{"date":"2024/04/30","etf":"France","ret":-3.23},
{"date":"2024/05/01","etf":"France","ret":-3.6},{"date":"2024/05/02","etf":"France","ret":-2.63},{"date":"2024/05/03","etf":"France","ret":-1.81},{"date":"2024/05/06","etf":"France","ret":-1.15},{"date":"2024/05/07","etf":"France","ret":-0.38},{"date":"2024/05/08","etf":"France","ret":0.34},{"date":"2024/05/09","etf":"France","ret":1.44},{"date":"2024/05/10","etf":"France","ret":1.51},{"date":"2024/05/13","etf":"France","ret":1.56},{"date":"2024/05/14","etf":"France","ret":2.33},{"date":"2024/05/15","etf":"France","ret":2.92},{"date":"2024/05/16","etf":"France","ret":2},{"date":"2024/05/17","etf":"France","ret":2.1},{"date":"2024/05/20","etf":"France","ret":2.1},{"date":"2024/05/21","etf":"France","ret":1.97},{"date":"2024/05/22","etf":"France","ret":1.07},{"date":"2024/05/23","etf":"France","ret":0.54},{"date":"2024/05/24","etf":"France","ret":1.44},{"date":"2024/05/28","etf":"France","ret":1.05},{"date":"2024/05/29","etf":"France","ret":-0.71},{"date":"2024/05/30","etf":"France","ret":0.05},{"date":"2024/05/31","etf":"France","ret":0.78},
{"date":"2024/06/03","etf":"France","ret":0.86},{"date":"2024/06/04","etf":"France","ret":0.56},{"date":"2024/06/05","etf":"France","ret":1.49},{"date":"2024/06/06","etf":"France","ret":1.93},{"date":"2024/06/07","etf":"France","ret":0.31},{"date":"2024/06/10","etf":"France","ret":-1.05},{"date":"2024/06/11","etf":"France","ret":-2.65},{"date":"2024/06/12","etf":"France","ret":-1.38},{"date":"2024/06/13","etf":"France","ret":-3.68},{"date":"2024/06/14","etf":"France","ret":-6.92},{"date":"2024/06/17","etf":"France","ret":-5.25},{"date":"2024/06/18","etf":"France","ret":-4.46},{"date":"2024/06/20","etf":"France","ret":-4.39},{"date":"2024/06/21","etf":"France","ret":-5.11},{"date":"2024/06/24","etf":"France","ret":-4.14},{"date":"2024/06/25","etf":"France","ret":-4.18},{"date":"2024/06/26","etf":"France","ret":-5.32},{"date":"2024/06/27","etf":"France","ret":-6.1},{"date":"2024/06/28","etf":"France","ret":-6.58}
]},
"layer":[
{"resolve":{"axis":{"x":"independent","y":"independent"}},
"layer":[
{"data":{"values":[{"level":0},{"level":8},{"level":16}]},
 "mark":{"type":"rule","stroke":"#eeeeee","strokeWidth":1.5},
 "encoding":{
  "x":{"datum":{"year":2024,"month":"apr","date":1},"type":"temporal","axis":null,"scale":{"domain":[{"year":2024,"month":"apr","date":1},{"year":2024,"month":"jun","date":28}],"range":[20,1443.5],"nice":false}},
  "x2":{"datum":{"year":2024,"month":"jun","date":28}},
  "y":{"field":"level","type":"quantitative","axis":null,"scale":{"domain":[-8,24],"range":[1219,413],"nice":false,"zero":false}}}},
{"data":{"values":[{"month":"2024/05/01"},{"month":"2024/06/01"}]},
 "mark":{"type":"rule","stroke":"#eaeaea","strokeWidth":1},
 "encoding":{
  "x":{"field":"month","type":"temporal","axis":null},
  "y":{"datum":-8,"type":"quantitative","axis":null},
  "y2":{"datum":24}}},
{"data":{"values":[{"part":"plot frame"}]},
 "mark":{"type":"rect","fill":"transparent","stroke":"#dedede","strokeWidth":1.5},
 "encoding":{
  "x":{"datum":{"year":2024,"month":"apr","date":1},"type":"temporal","axis":null},
  "x2":{"datum":{"year":2024,"month":"jun","date":28}},
  "y":{"datum":-8,"type":"quantitative","axis":null},
  "y2":{"datum":24}}},
{"data":{"values":[{"part":"title rule"}]},
 "mark":{"type":"rule","stroke":"#d9d9d9","strokeWidth":1.5},
 "encoding":{
  "x":{"datum":{"year":2024,"month":"mar","date":31,"hours":23},"type":"temporal","axis":null},
  "x2":{"datum":{"year":2024,"month":"jul","date":6,"hours":10}},
  "y":{"datum":38.37,"type":"quantitative","axis":null}}},
{"data":{"name":"returns"},
 "mark":{"type":"line","strokeWidth":2.9,"interpolate":"linear","strokeJoin":"miter"},
 "encoding":{
  "x":{"field":"date","type":"temporal","axis":{"title":null,"orient":"bottom","offset":-149,"values":[{"year":2024,"month":"apr","date":1},{"year":2024,"month":"may","date":1},{"year":2024,"month":"jun","date":1}],"format":"%b '%y","labelFlush":true,"labelFont":"Roboto","labelFontSize":19.8,"labelColor":"#666666","labelPadding":13,"ticks":false,"domain":false,"grid":false}},
  "y":{"field":"ret","type":"quantitative","axis":{"title":null,"orient":"right","offset":-156.5,"values":[-8,0,8,16,24],"labelExpr":"datum.value===8||datum.value===24?'':format(datum.value,'.2f')+'%'","labelFont":"Roboto","labelFontSize":19.8,"labelColor":"#666666","labelPadding":11,"labelOffset":-9,"ticks":false,"domain":false,"grid":false}},
  "color":{"field":"etf","type":"nominal","legend":null,"scale":{"domain":["Taiwan","India","China","UK","Germany","Frontier","Canada","Japan","France"],"range":["#8C7F5A","#15523F","#0A5A74","#D8A02E","#A98CB0","#B53A33","#F0A274","#BF6B73","#674550"]}}}},
{"data":{"name":"latest"},
 "transform":[{"filter":"isValid(datum.value)"},{"calculate":"datum.etf==='UK'?3.65:datum.etf==='Frontier'?-2.34:datum.etf==='Canada'?-3.57:datum.etf==='Japan'?-4.79:datum.value","as":"flagAt"}],
 "encoding":{
  "x":{"datum":{"year":2024,"month":"jun","date":28},"type":"temporal","axis":null},
  "y":{"field":"flagAt","type":"quantitative","axis":null},
  "color":{"field":"etf","type":"nominal","legend":null}},
 "layer":[
  {"transform":[{"filter":"length(datum.val)>5"}],"mark":{"type":"point","filled":true,"opacity":1,"size":4,"shape":"M0,0L14.5,-15.2H100.5V15.2H14.5Z"}},
  {"transform":[{"filter":"length(datum.val)<=5"}],"mark":{"type":"point","filled":true,"opacity":1,"size":4,"shape":"M0,0L14.5,-15.2H88V15.2H14.5Z"}},
  {"mark":{"type":"text","align":"left","baseline":"middle","dx":17.5,"dy":1,"fontSize":19.6,"fontWeight":"bold","fill":"white"},"encoding":{"text":{"field":"val"},"color":{"value":"white"}}}
 ]},
{"data":{"values":[{"note":"rings"}]},
 "encoding":{"x":{"datum":{"year":2024,"month":"apr","date":2,"hours":14,"minutes":36},"type":"temporal","axis":null},"y":{"datum":-12.32,"type":"quantitative","axis":null}},
 "mark":{"type":"point","filled":false,"opacity":1,"size":4,"stroke":"#111111","strokeWidth":2.8,"shape":"M26,-9C22,-19 11,-26 0,-26C-14,-26 -26,-18 -26,-8C-26,2 -13,9 0,9C11,9 21,5 25,-2M-26,9C-26,18 -14,26 0,26C14,26 27,18 27,8C27,-2 13,-9 0,-9C-11,-9 -20,-5 -24,1"}},
{"data":{"values":[{"note":"Jul 1, 2024, 5:18 PM EDT Powered by"}]},
 "mark":{"type":"text","align":"right","baseline":"alphabetic","dx":-6,"fontSize":18.6,"fill":"#222222"},
 "encoding":{"x":{"datum":{"year":2024,"month":"jun","date":28},"type":"temporal","axis":null},"y":{"datum":-13.2,"type":"quantitative","axis":null},"text":{"field":"note"}}},
{"data":{"values":[{"note":"Y"}]},
 "mark":{"type":"text","align":"left","baseline":"alphabetic","dx":0,"font":"DejaVu Sans","fontSize":24,"fontWeight":"bold","fill":"#1E96EA"},
 "encoding":{"x":{"datum":{"year":2024,"month":"jun","date":28},"type":"temporal","axis":null},"y":{"datum":-13.32,"type":"quantitative","axis":null},"text":{"field":"note"}}},
{"data":{"values":[{"note":"CHARTS"}]},
 "mark":{"type":"text","align":"left","baseline":"alphabetic","dx":20,"font":"DejaVu Sans","fontSize":27.2,"fontWeight":"bold","fill":"#111111"},
 "encoding":{"x":{"datum":{"year":2024,"month":"jun","date":28},"type":"temporal","axis":null},"y":{"datum":-13.32,"type":"quantitative","axis":null},"text":{"field":"note"}}}
]},
{"data":{"name":"latest"},
 "encoding":{"y":{"field":"name","type":"nominal","axis":null,"sort":null,"scale":{"type":"point","padding":0,"range":[102,390],"domain":["VAL","iShares MSCI Taiwan ETF Total Return","iShares MSCI India ETF Total Return","iShares MSCI China ETF Total Return","iShares MSCI United Kingdom ETF Total Return","iShares MSCI Germany ETF Total Return","iShares Frontier and Select EM ETF Total Return","iShares MSCI Canada ETF Total Return","iShares MSCI Japan ETF Total Return","iShares MSCI France ETF Total Return"]}}},
 "layer":[
 {"transform":[{"filter":"isValid(datum.value)"}],"mark":{"type":"circle","size":113,"opacity":1},
  "encoding":{"x":{"datum":"marker","type":"nominal","axis":null,"scale":{"type":"point","padding":0,"range":[49,592],"domain":["marker","VAL"]}},"color":{"field":"etf","type":"nominal","legend":null}}},
 {"transform":[{"filter":"isValid(datum.value)"}],"mark":{"type":"text","align":"left","baseline":"middle","dx":23,"dy":1,"fontSize":19.6,"fill":"#222222"},
  "encoding":{"x":{"datum":"marker","type":"nominal","axis":null},"text":{"field":"name"}}},
 {"mark":{"type":"text","align":"right","baseline":"middle","dy":1,"fontSize":20,"fill":"#222222"},
  "encoding":{"x":{"datum":"VAL","type":"nominal","axis":null},"text":{"field":"val"}}}
 ]}
],
"resolve":{"scale":{"x":"independent","y":"independent"}}}
